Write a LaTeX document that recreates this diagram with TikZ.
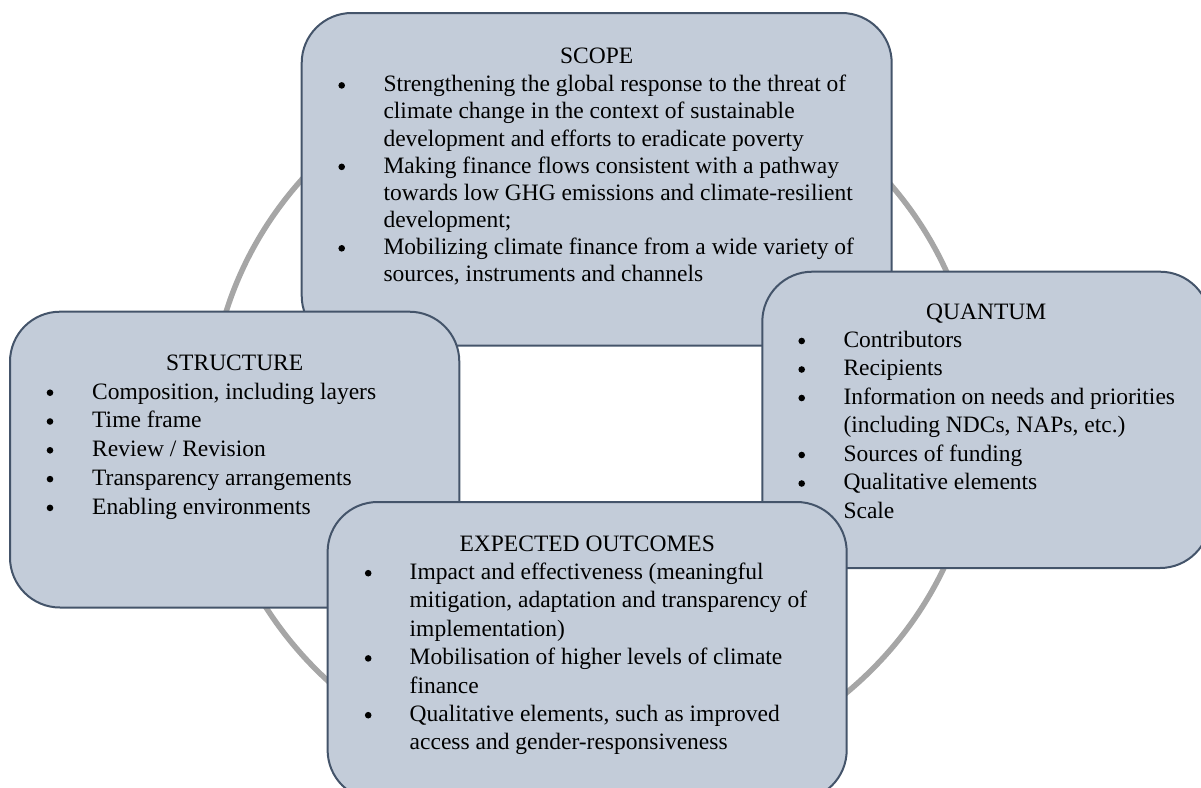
\documentclass[tikz,border=0pt]{standalone}
\usepackage{fontspec}
\setmainfont{Liberation Serif}
\definecolor{boxfill}{HTML}{C3CCD9}
\definecolor{boxline}{HTML}{44546A}
\definecolor{ringgray}{HTML}{A6A6A6}
\begin{document}
\begin{tikzpicture}[x=1pt,y=-1pt,
  panel/.style={rectangle, draw=boxline, line width=2pt, fill=boxfill,
    rounded corners=50pt, inner sep=0pt},
  heading/.style={anchor=base, inner sep=0pt, font=\fontsize{23.5}{28}\selectfont},
  items/.style={anchor=base west, inner sep=0pt, font=\fontsize{23.5}{#1}\selectfont},
  dot/.style={circle, fill=black, inner sep=0pt, minimum size=6.6pt}]
\useasboundingbox (0,0) rectangle (1201,787);
\clip (0,0) rectangle (1201,787);

% cycle ring behind the four panels
\draw[ringgray, line width=5.5pt] (594,417) ellipse [x radius=384pt, y radius=366pt];

% SCOPE
\node[panel, minimum width=590pt, minimum height=332.7pt] (scope) at (596.7,179.35) {};
\node[heading] (scopeT) at (596.7,63.3) {SCOPE};
\node[items=27.15] (scopeL) at (383.3,91.7) {\begin{tabular}[t]{@{}l@{}}
Strengthening the global response to the threat of\\
climate change in the context of sustainable\\
development and efforts to eradicate poverty\\
Making finance flows consistent with a pathway\\
towards low GHG emissions and climate-resilient\\
development;\\
Mobilizing climate finance from a wide variety of\\
sources, instruments and channels
\end{tabular}};
\foreach \y [count=\i] in {91.7,173.15,254.6}
  \node[dot] (scopeB\i) at (341.7,\y-6.3) {};

% QUANTUM
\node[panel, minimum width=447.7pt, minimum height=296.3pt] (quantum) at (986.15,419.85) {};
\node[heading] (quantumT) at (986.2,319.3) {QUANTUM};
\node[items=28.5] (quantumL) at (843.3,347.3) {\begin{tabular}[t]{@{}l@{}}
Contributors\\
Recipients\\
Information on needs and priorities\\
(including NDCs, NAPs, etc.)\\
Sources of funding\\
Qualitative elements\\
Scale
\end{tabular}};
\foreach \y [count=\i] in {347.3,375.8,404.3,461.3,489.8,518.3}
  \node[dot] (quantumB\i) at (801.7,\y-6.3) {};

% STRUCTURE
\node[panel, minimum width=449.3pt, minimum height=295.8pt] (structure) at (234.65,459.6) {};
\node[heading] (structureT) at (234.7,370.7) {STRUCTURE};
\node[items=28.8] (structureL) at (92,399) {\begin{tabular}[t]{@{}l@{}}
Composition, including layers\\
Time frame\\
Review / Revision\\
Transparency arrangements\\
Enabling environments
\end{tabular}};
\foreach \y [count=\i] in {399,427.8,456.6,485.4,514.2}
  \node[dot] (structureB\i) at (50,\y-6.3) {};

% EXPECTED OUTCOMES
\node[panel, minimum width=519.1pt, minimum height=298pt] (outcomes) at (587.15,651) {};
\node[heading] (outcomesT) at (587.2,551) {EXPECTED OUTCOMES};
\node[items=28.4] (outcomesL) at (409.5,579.5) {\begin{tabular}[t]{@{}l@{}}
Impact and effectiveness (meaningful\\
mitigation, adaptation and transparency of\\
implementation)\\
Mobilisation of higher levels of climate\\
finance\\
Qualitative elements, such as improved\\
access and gender-responsiveness
\end{tabular}};
\foreach \y [count=\i] in {579.5,664.7,721.5}
  \node[dot] (outcomesB\i) at (368.2,\y-6.3) {};
\end{tikzpicture}
\end{document}
